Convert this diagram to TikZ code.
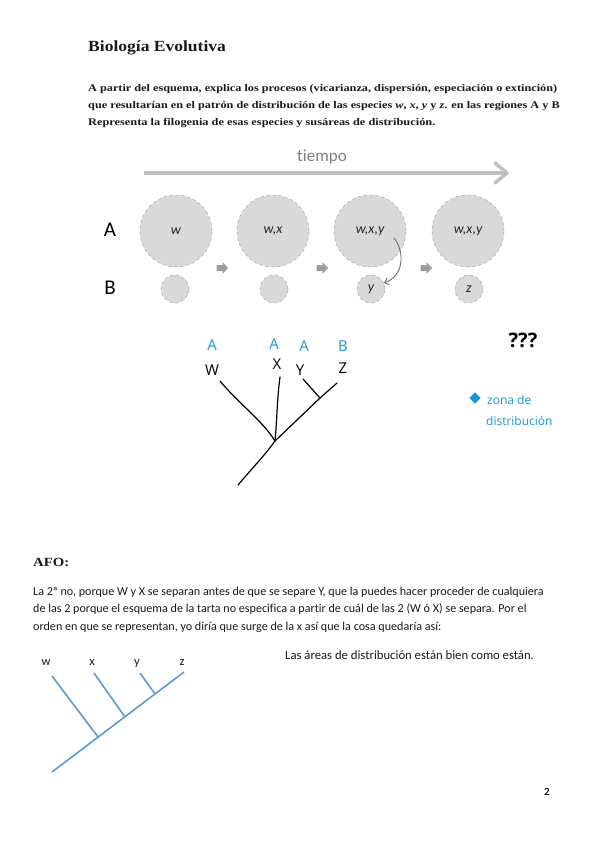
\documentclass[tikz,border=0pt]{standalone}
\usepackage{fontspec}
\setmainfont{Liberation Serif}
\newfontfamily\calib[Ligatures=NoCommon]{Carlito}
\newfontfamily\hand{Open Sans}
\usetikzlibrary{arrows.meta,calc}
\definecolor{circfill}{HTML}{D9D9D9}
\definecolor{circline}{HTML}{A6A6A6}
\definecolor{tgrey}{HTML}{BFBFBF}
\definecolor{agrey}{HTML}{9E9E9E}
\definecolor{cgrey}{HTML}{6E6E6E}
\definecolor{handblue}{HTML}{1A96D4}
\definecolor{treeblue}{HTML}{5B9BD5}
\definecolor{txt}{HTML}{1A1A1A}
\tikzset{
  bigc/.style={circle,draw=circline,dashed,line width=0.5pt,fill=circfill,minimum size=72pt,inner sep=0pt,font=\calib\itshape\fontsize{14}{14}\selectfont,text=black!85},
  smallc/.style={circle,draw=circline,dashed,line width=0.5pt,fill=circfill,minimum size=28pt,inner sep=0pt,font=\calib\itshape\fontsize{14}{14}\selectfont,text=black!85},
  rowlab/.style={font=\calib\fontsize{21}{21}\selectfont,text=black},
  hdr/.style={anchor=base west,inner sep=0pt,font=\bfseries\fontsize{10.2}{12}\selectfont,text=txt},
  body/.style={anchor=base west,inner sep=0pt,font=\calib\fontsize{12.1}{13}\selectfont,text=txt},
  hlab/.style={font=\hand\fontsize{15}{15}\selectfont,text=black,inner sep=0pt},
  blab/.style={font=\hand\fontsize{15}{15}\selectfont,text=handblue,inner sep=0pt},
  handline/.style={line width=1.2pt,black,line cap=round},
  bline/.style={line width=1.6pt,treeblue},
  tlab/.style={font=\calib\fontsize{12.5}{12}\selectfont,text=txt,inner sep=0pt}
}
\newcommand{\blockarrow}[1]{%
  \fill[agrey] ($(#1)+(-5.5,-3)$) -- ($(#1)+(0.5,-3)$) -- ($(#1)+(0.5,-6)$) -- ($(#1)+(6,0)$)
   -- ($(#1)+(0.5,6)$) -- ($(#1)+(0.5,3)$) -- ($(#1)+(-5.5,3)$) -- cycle;}
\begin{document}
\begin{tikzpicture}[x=1pt,y=-1pt]
\path[use as bounding box,fill=white] (0,0) rectangle (600,848);

% header
\node[hdr,font=\bfseries\fontsize{15.5}{15}\selectfont] (title) at (88,52) {\scalebox{1.13}[1]{Biología Evolutiva}};
\node[hdr] (h1) at (88,92) {\scalebox{1.2}[1]{A partir del esquema, explica los procesos (vicarianza, dispersión, especiación o extinción)}};
\node[hdr] (h2) at (88,108.5) {\scalebox{1.2}[1]{que resultarían en el patrón de distribución de las especies \textit{w}, \textit{x}, \textit{y} y \textit{z}. en las regiones A y B}};
\node[hdr] (h3) at (88,125) {\scalebox{1.21}[1]{Representa la filogenia de esas especies y susáreas de distribución.}};

% tiempo arrow
\node[font=\calib\fontsize{17}{17}\selectfont,text=black!50] (tiempo) at (322,157) {tiempo};
\coordinate (ta) at (144,173);
\coordinate (tb) at (507,173);
\draw[tgrey,line width=3.5pt] (ta) -- (tb);
\draw[tgrey,line width=3.5pt,line cap=round,line join=round] ($(tb)+(-12,-10)$) -- (tb) -- ($(tb)+(-12,10)$);

% row labels
\node[rowlab] (lA) at (110,230) {A};
\node[rowlab] (lB) at (110,288) {B};

% circles
\node[bigc] (a1) at (176,231) {w};
\node[bigc] (a2) at (273,231) {w,x};
\node[bigc] (a3) at (370,231) {w,x,y};
\node[bigc] (a4) at (468,231) {w,x,y};
\node[smallc] (b1) at (175,289) {};
\node[smallc] (b2) at (274,289) {};
\node[smallc] (b3) at (371,289) {y};
\node[smallc] (b4) at (469,289) {z};

% block arrows
\coordinate (ba1) at (222,268);
\coordinate (ba2) at (322,268);
\coordinate (ba3) at (426,268);
\blockarrow{ba1}
\blockarrow{ba2}
\blockarrow{ba3}

% curved arrow
\coordinate (cs) at (394,238);
\draw[cgrey,line width=0.9pt,-{Straight Barb[length=4pt,width=7pt]}] (cs) .. controls (405,252) and (404,276) .. (b3.25);

% hand-drawn tree
\coordinate (wt) at (220,381);
\coordinate (n0) at (275,441);
\coordinate (xt) at (280,377);
\coordinate (yzn) at (320,398);
\coordinate (yt) at (303,379);
\coordinate (zt) at (337,383);
\coordinate (root) at (238,485);
\draw[handline] (wt) .. controls (240,405) and (262,420) .. (n0);
\draw[handline] (xt) .. controls (277,400) and (277,420) .. (n0);
\draw[handline] (root) .. controls (255,465) and (265,455) .. (n0) -- (yzn) -- (zt);
\draw[handline] (yt) -- (yzn);

\node[hlab] (lw) at (212,370) {W};
\node[hlab] (lx) at (277,364) {X};
\node[hlab] (ly) at (300,370) {Y};
\node[hlab] (lz) at (343,368) {Z};
\node[blab] (aw) at (212,345) {A};
\node[blab] (ax) at (274,344) {A};
\node[blab] (ay) at (304,346) {A};
\node[blab] (bz) at (343,346) {B};

\node[font=\hand\bfseries\fontsize{20}{20}\selectfont,text=black] (qq) at (523,340) {???};
\node[fill=handblue,rotate=45,minimum size=8pt,inner sep=0pt] (dia) at (475,398) {};
\node[font=\hand\fontsize{12}{12}\selectfont,text=handblue,anchor=west,inner sep=0pt] (zona) at (487,400) {zona de};
\node[font=\hand\fontsize{12}{12}\selectfont,text=handblue,anchor=west,inner sep=0pt] (dist) at (486,421) {distribución};

% AFO section
\node[hdr,font=\bfseries\fontsize{12.5}{12}\selectfont] (afo) at (33,566) {\scalebox{1.18}[1]{AFO:}};
\node[body] (p1) at (33,595) {La 2ª no, porque W y X se separan antes de que se separe Y, que la puedes hacer proceder de cualquiera};
\node[body] (p2) at (33,612.5) {de las 2 porque el esquema de la tarta no especifica a partir de cuál de las 2 (W ó X) se separa. Por el};
\node[body] (p3) at (33,630) {orden en que se representan, yo diría que surge de la x así que la cosa quedaría así:};
\node[body,font=\calib\fontsize{12.7}{13}\selectfont] (areas) at (285,659.5) {Las áreas de distribución están bien como están.};

% blue tree
\coordinate (w2) at (52,676);
\coordinate (wn) at (98,737);
\coordinate (x2) at (94,673);
\coordinate (xn) at (125,717);
\coordinate (y2) at (140,673);
\coordinate (yn) at (155,694);
\coordinate (z2) at (184,672);
\coordinate (r2) at (52,772);
\draw[bline] (r2) -- (z2);
\draw[bline] (w2) -- (wn);
\draw[bline] (x2) -- (xn);
\draw[bline] (y2) -- (yn);
\node[tlab] (tw) at (46,663) {w};
\node[tlab] (tx) at (92,663) {x};
\node[tlab] (ty) at (137,664) {y};
\node[tlab] (tz) at (182,663) {z};

\node[font=\calib\bfseries\fontsize{11}{11}\selectfont,text=txt,inner sep=0pt] (pg) at (547,792) {2};
\end{tikzpicture}
\end{document}
